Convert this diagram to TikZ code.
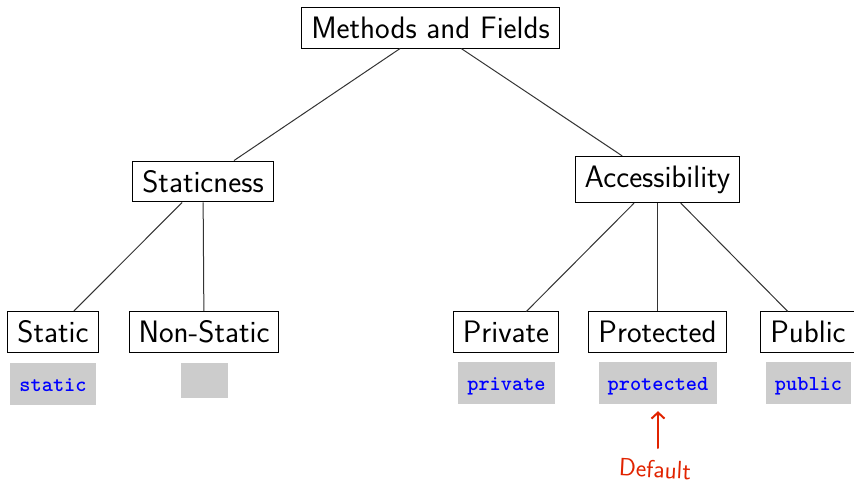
\documentclass[tikz,border=0pt]{standalone}
\usepackage{fontspec}
\usetikzlibrary{arrows.meta}
\newfontfamily\codefont[Extension=.otf]{lmmonolt10-bold}
\definecolor{codeblue}{RGB}{0,0,255}
\definecolor{annotred}{RGB}{225,35,0}
\begin{document}
\begin{tikzpicture}[x=1pt,y=-1pt,
  box/.style={draw=black, line width=1pt, inner xsep=9.5pt, inner ysep=9.2pt,
    font=\sffamily\fontsize{31}{36}\selectfont},
  code/.style={fill=black!20, inner xsep=9pt, inner ysep=0pt, minimum height=42pt,
    text height=18pt, text depth=4pt, font=\codefont\fontsize{21.3}{25}\selectfont, text=codeblue},
  edge/.style={draw=black!80, line width=1pt},
  annot/.style={draw=annotred, line width=2pt, line cap=round}
]
\useasboundingbox (0,0) rectangle (854,489);
% tree nodes
\node[box] (root) at (430.5,28) {Methods and Fields};
\node[box] (stness) at (203,181.5) {Staticness};
\node[box] (access) at (657.5,179.5) {Accessibility};
\node[box] (static) at (53,332) {Static};
\node[box] (nonstatic) at (204,332) {Non-Static};
\node[box] (private) at (506,332) {Private};
\node[box] (protected) at (657.5,332) {Protected};
\node[box] (public) at (808,332) {Public};
% code boxes
\node[code] (staticcode) at (53,384) {static};
\node[fill=black!20, minimum width=47pt, minimum height=35pt, inner sep=0pt] (nonstaticcode) at (204.5,380.5) {};
\node[code] (privatecode) at (506.5,383) {private};
\node[code] (protectedcode) at (658,383) {protected};
\node[code] (publiccode) at (808.5,383) {public};
% connectors
\draw[edge] (root) -- (stness);
\draw[edge] (root) -- (access);
\draw[edge] (stness) -- (static);
\draw[edge] (stness) -- (nonstatic);
\draw[edge] (access) -- (private);
\draw[edge] (access) -- (protected);
\draw[edge] (access) -- (public);
% annotation
\node[text=annotred, font=\sffamily\fontsize{25}{30}\selectfont, rotate=-3] (default) at (655,469) {Default};
\coordinate (arrowtail) at (658,448);
\draw[annot, -{Straight Barb[length=6pt,width=13pt]}, shorten >=7pt] (arrowtail) -- (protectedcode);
\end{tikzpicture}
\end{document}
